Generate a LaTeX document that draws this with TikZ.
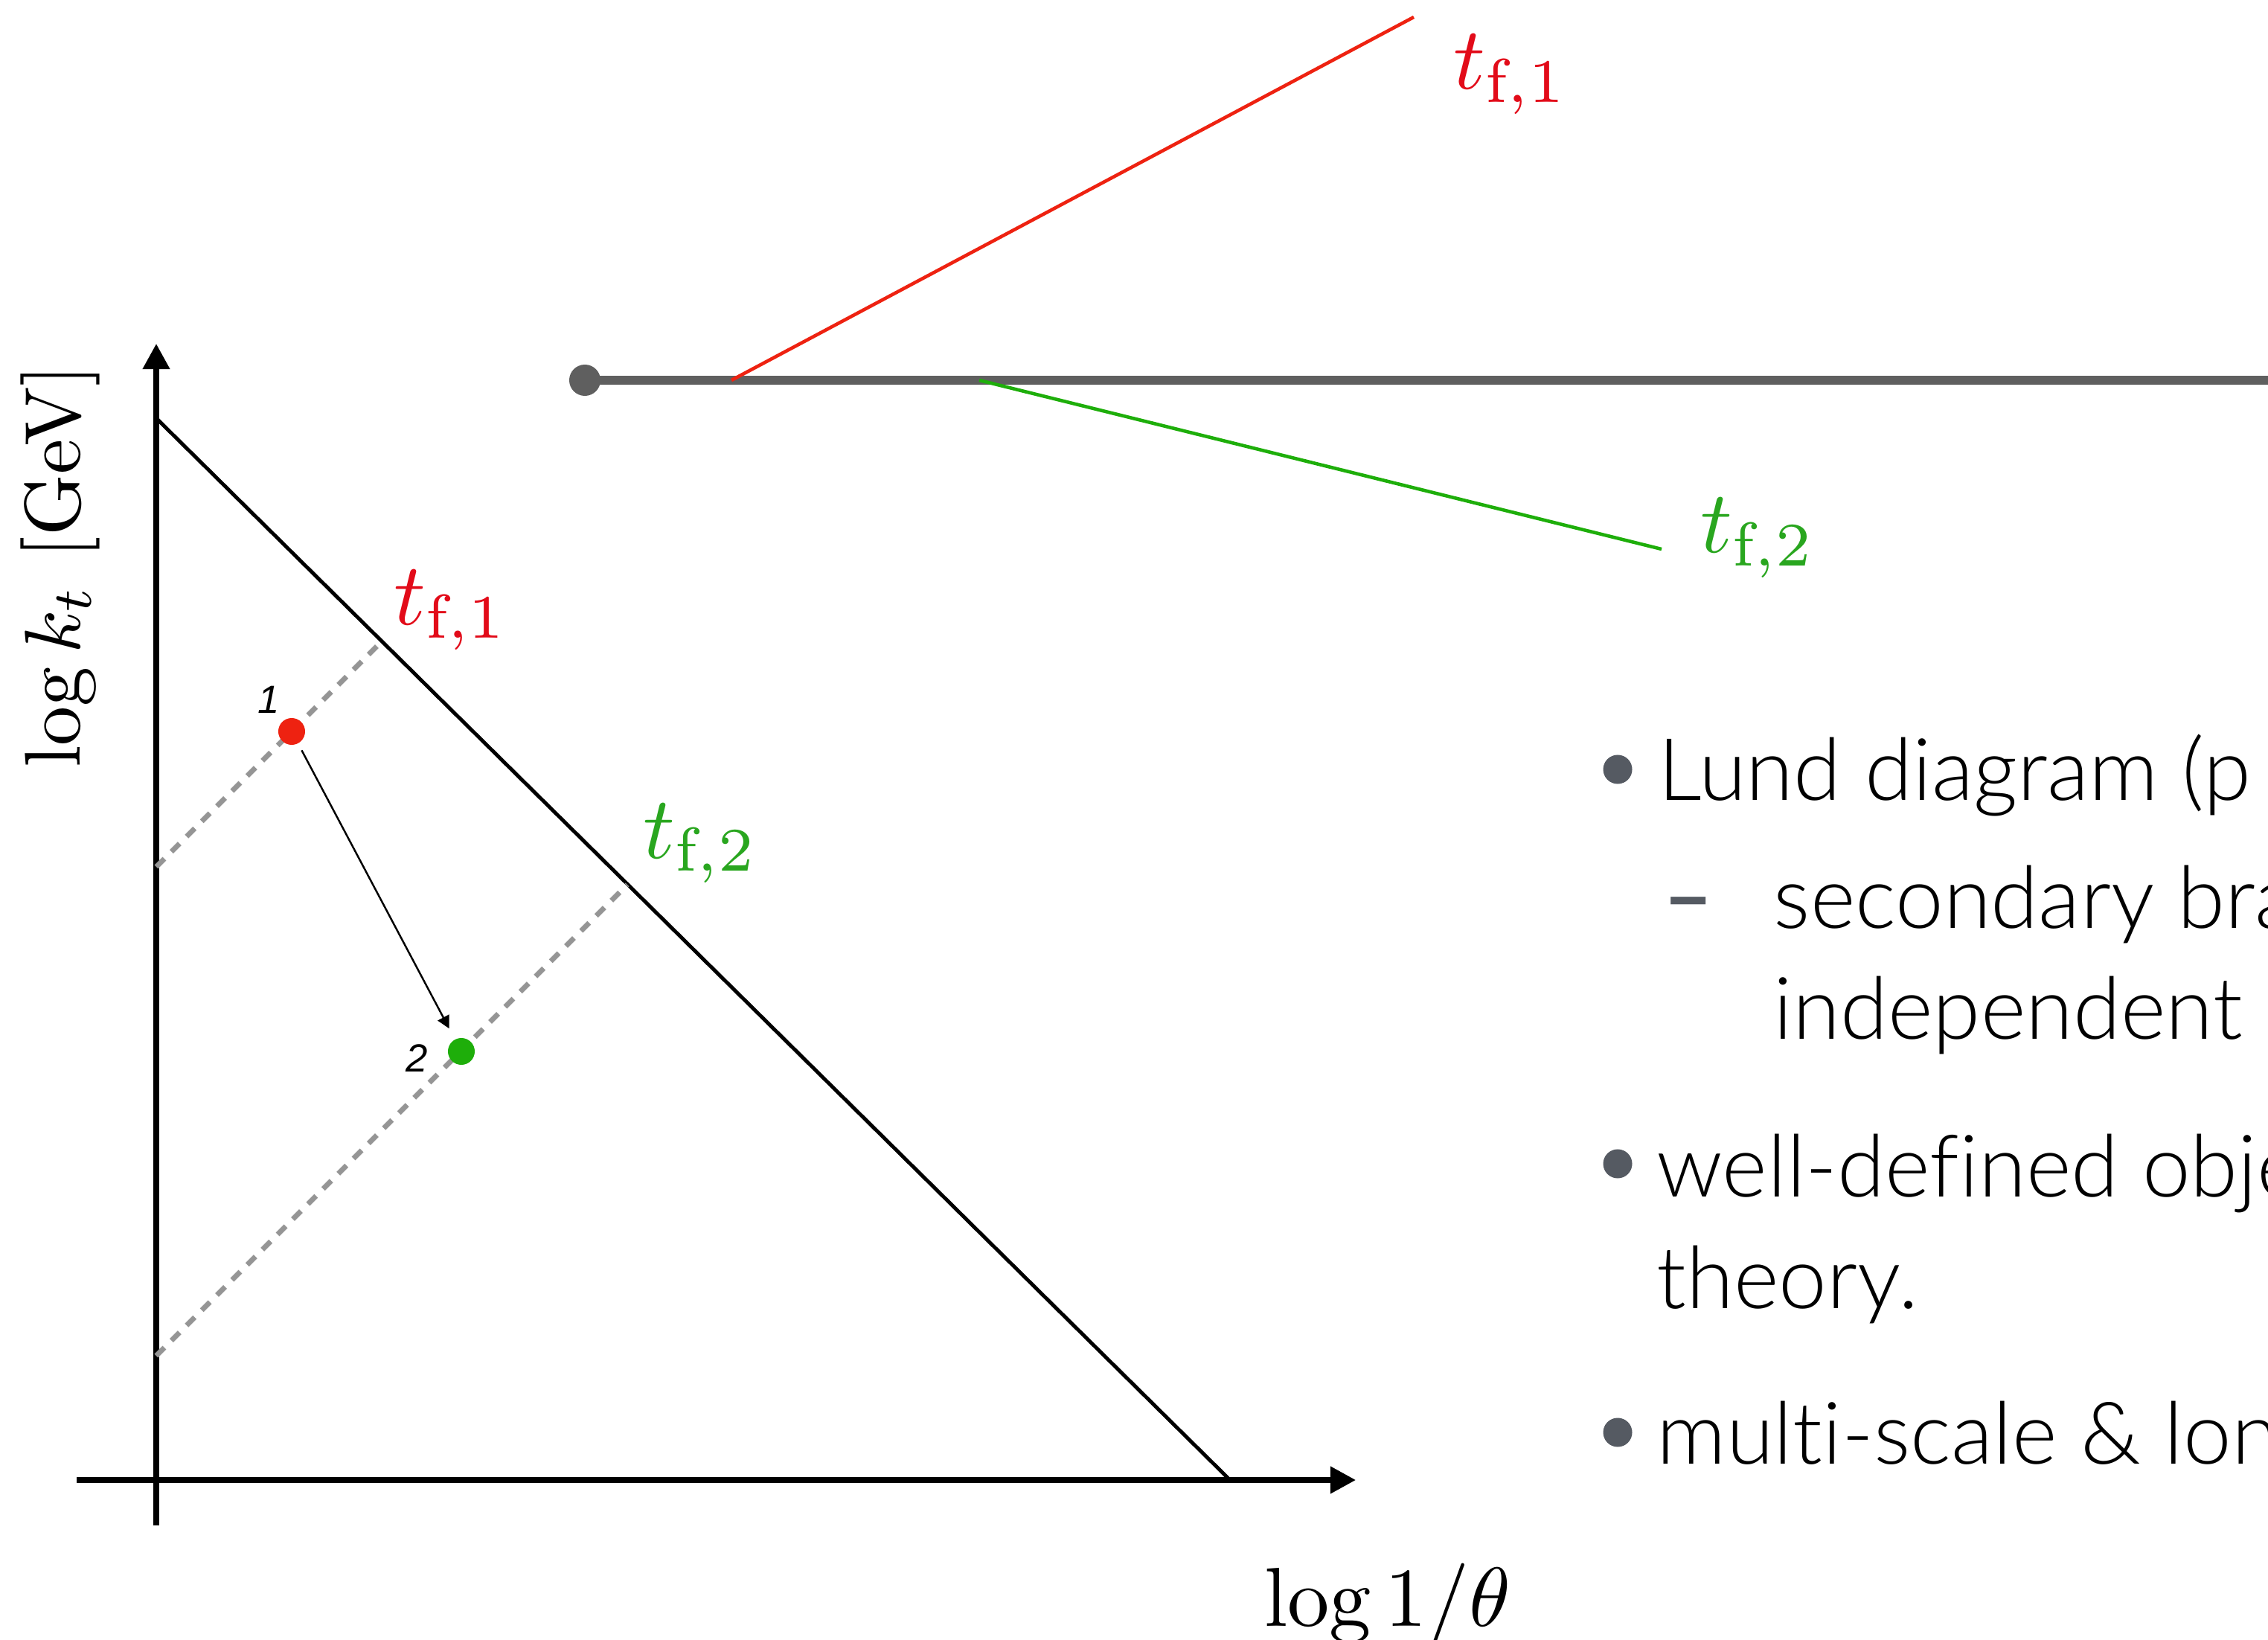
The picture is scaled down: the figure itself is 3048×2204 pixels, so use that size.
\RequirePackage{fix-cm}
\documentclass[tikz,border=0pt]{standalone}
\usepackage{fontspec}
\IfFontExistsTF{Lato Light}{\newfontfamily\slidefont{Lato Light}[Ligatures=NoCommon]}{\newfontfamily\slidefont{Lato}[Ligatures=NoCommon]}
\newfontfamily\dashfont{Lato}
\newfontfamily\numfont{Liberation Sans}
\usetikzlibrary{arrows,arrows.meta,calc,positioning}

\definecolor{emitred}{HTML}{EE2211}
\definecolor{labelred}{HTML}{E20B19}
\definecolor{emitgreen}{HTML}{1EAE0A}
\definecolor{labelgreen}{HTML}{29A61F}
\definecolor{jetgray}{HTML}{5F5F5F}
\definecolor{dashgray}{HTML}{959595}
\definecolor{bulletgray}{HTML}{555A62}

\tikzset{
  axis/.style={line width=2pt, -{Triangle[length=9.7pt,width=10pt]}},
  edge/.style={line width=1.4pt},
  tfline/.style={dashgray, line width=2pt, dash pattern=on 4.4pt off 3.8pt},
  emdot/.style={circle, inner sep=0pt, minimum size=0.36cm},
  tflabel/.style={anchor=base west, inner sep=0pt, scale=3.38, transform shape},
  axislabel/.style={anchor=base west, inner sep=0pt, transform shape},
  numlabel/.style={inner sep=0pt, font=\fontsize{15}{18}\selectfont\numfont\itshape},
  bullettext/.style={anchor=base west, inner sep=0pt, font=\fontsize{33}{40}\selectfont\slidefont}
}

\begin{document}
\begin{tikzpicture}[x=0.01cm,y=-0.01cm]
\useasboundingbox (0,0) rectangle (3048,2204);
\clip (0,0) rectangle (3048,2204);

\coordinate (ybot) at (210,2050);
\coordinate (ytop) at (210,462);
\coordinate (xleft) at (103,1989);
\coordinate (xright) at (1822,1989);
\draw[axis] (ybot) -- (ytop);
\draw[axis] (xleft) -- (xright);

\node[axislabel, rotate=90, scale=3.02] (ylabel) at (107,1034) {$\log k_t$ [GeV]};
\node[axislabel, scale=3.2] (xlabel) at (1697,2185) {$\log 1/\theta$};

\coordinate (edgetop) at (210,562);
\coordinate (edgebot) at (1653,1989);
\draw[edge] (edgetop) -- (edgebot);

\coordinate (tf1low) at (210,1165);
\coordinate (tf1high) at (513,862);
\coordinate (tf2low) at (210,1822);
\coordinate (tf2high) at (843,1189);
\draw[tfline] (tf1low) -- (tf1high);
\draw[tfline] (tf2low) -- (tf2high);

\node[tflabel, labelred] (tf1) at (527,840) {$t_{\mathrm{f},1}$};
\node[tflabel, labelgreen] (tf2) at (862,1153) {$t_{\mathrm{f},2}$};

\node[emdot, fill=emitred] (em1) at (392,983) {};
\node[emdot, fill=emitgreen] (em2) at (620,1413) {};
\draw[line width=0.7pt, -{Triangle[length=4.8pt,width=4.8pt]}, shorten <=0.1cm, shorten >=0.16cm] (em1) -- (em2);

\node[numlabel] (num1) at (361,940) {1};
\node[numlabel] (num2) at (560,1422) {2};

\coordinate (jetstart) at (786,511);
\coordinate (jetend) at (3048,511);
\draw[jetgray, line width=3.2pt] (jetstart) -- (jetend);
\fill[jetgray] (jetstart) circle [radius=0.21cm];

\coordinate (split1) at (983,511);
\coordinate (branch1) at (1900,23);
\draw[emitred, line width=1.3pt] (split1) -- (branch1);
\node[tflabel, labelred] (tfa) at (1951,120) {$t_{\mathrm{f},1}$};

\coordinate (split2) at (1316,511);
\coordinate (branch2) at (2233,738);
\draw[emitgreen, line width=1.3pt] (split2) -- (branch2);
\node[tflabel, labelgreen] (tfb) at (2283,743) {$t_{\mathrm{f},2}$};

\fill[bulletgray] (2174,1034) circle [radius=0.195cm];
\node[bullettext] (lund) at (2228,1076) {Lund diagram (p};
\node[bullettext, anchor=base, bulletgray, font=\fontsize{33}{40}\selectfont\dashfont\bfseries] (dash) at (2269,1245) {–};
\node[bullettext] (second) at (2383,1247) {secondary bra};
\node[bullettext] (indep) at (2383,1396) {independent};

\fill[bulletgray] (2174,1564) circle [radius=0.195cm];
\node[bullettext] (welldef) at (2226,1608) {well-defined obje};
\node[bullettext] (theory) at (2226,1758) {theory.};

\fill[bulletgray] (2174,1925) circle [radius=0.195cm];
\node[bullettext] (multi) at (2226,1967) {multi-scale \& lon};
\end{tikzpicture}
\end{document}
